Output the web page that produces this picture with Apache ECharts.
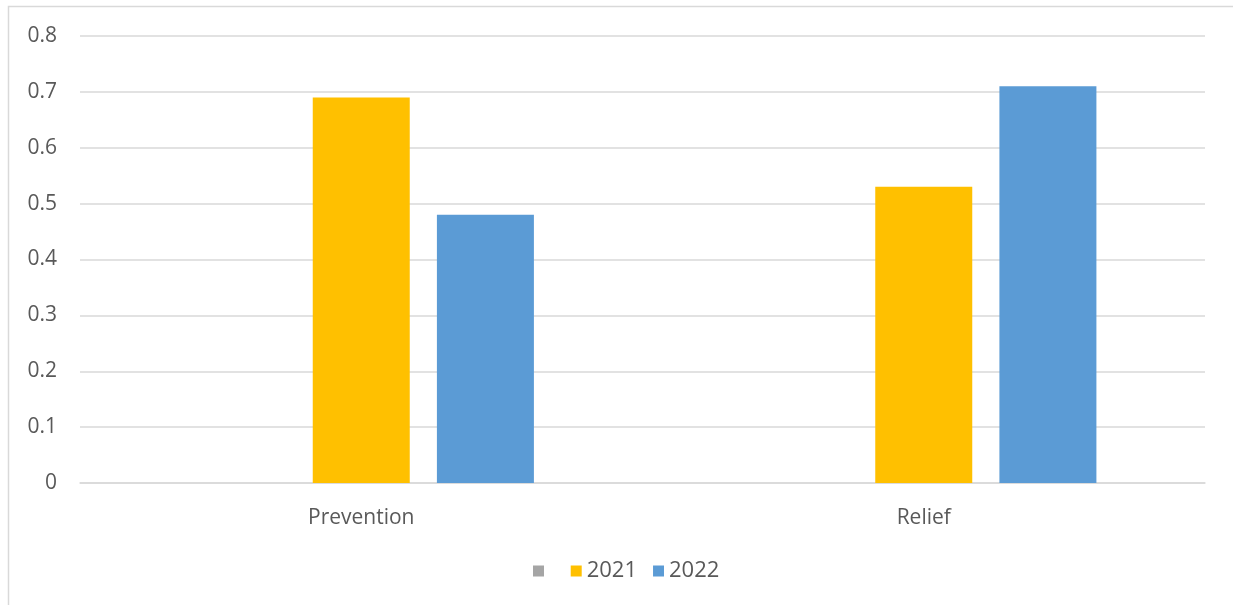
<!DOCTYPE html>
<html>
<head>
<meta charset="utf-8">
<style>
  html, body { margin: 0; padding: 0; background: #ffffff; }
  #chart { width: 1233px; height: 605px; }
</style>
<script src="https://cdn.jsdelivr.net/npm/echarts@6/dist/echarts.min.js"></script>
</head>
<body>
<div id="chart"></div>
<script>
// Categories and series values
const categories = ['Prevention', 'Relief'];
const seriesNames = [' ', '2021', '2022'];
const blankSeries = [null, null];
const values2021 = [0.69, 0.53];
const values2022 = [0.48, 0.71];
const yTicks = { min: 0, max: 0.8, interval: 0.1 };

const textColor = '#595959';
const gridColor = '#d9d9d9';
const fontFamily = '"Open Sans", Lato, sans-serif';
const fontSize = 21;

const chart = echarts.init(document.getElementById('chart'), null, { renderer: 'canvas' });

chart.setOption({
  animation: false,
  backgroundColor: '#ffffff',
  graphic: [{
    type: 'rect',
    shape: { x: 8.5, y: 6.5, width: 1400, height: 800 },
    style: { fill: 'none', stroke: gridColor, lineWidth: 1.5 },
    silent: true
  }],
  grid: { left: 80, right: 28, top: 36, bottom: 122, containLabel: false },
  legend: {
    data: seriesNames,
    left: 528,
    top: 555,
    itemWidth: 11,
    itemHeight: 11,
    itemGap: 16,
    icon: 'rect',
    textStyle: { color: textColor, fontSize: 22, fontFamily: fontFamily }
  },
  xAxis: {
    type: 'category',
    data: categories,
    axisLine: { show: true, lineStyle: { color: gridColor, width: 1.5 } },
    axisTick: { show: false },
    axisLabel: { color: textColor, fontSize: fontSize, fontFamily: fontFamily, margin: 25 }
  },
  yAxis: {
    type: 'value',
    min: yTicks.min,
    max: yTicks.max,
    interval: yTicks.interval,
    axisLine: { show: false },
    axisTick: { show: false },
    splitLine: { lineStyle: { color: gridColor, width: 1.5 } },
    axisLabel: {
      color: textColor, fontSize: fontSize, fontFamily: fontFamily, margin: 23,
      formatter: v => (Math.round(v * 10) / 10).toString()
    }
  },
  series: [
    { name: seriesNames[0], type: 'bar', data: blankSeries, itemStyle: { color: '#a5a5a5' }, barWidth: 97, barGap: '28%' },
    { name: seriesNames[1], type: 'bar', data: values2021, itemStyle: { color: '#ffc000' }, barWidth: 97, barGap: '28%' },
    { name: seriesNames[2], type: 'bar', data: values2022, itemStyle: { color: '#5b9bd5' }, barWidth: 97, barGap: '28%' }
  ]
});
</script>
</body>
</html>
